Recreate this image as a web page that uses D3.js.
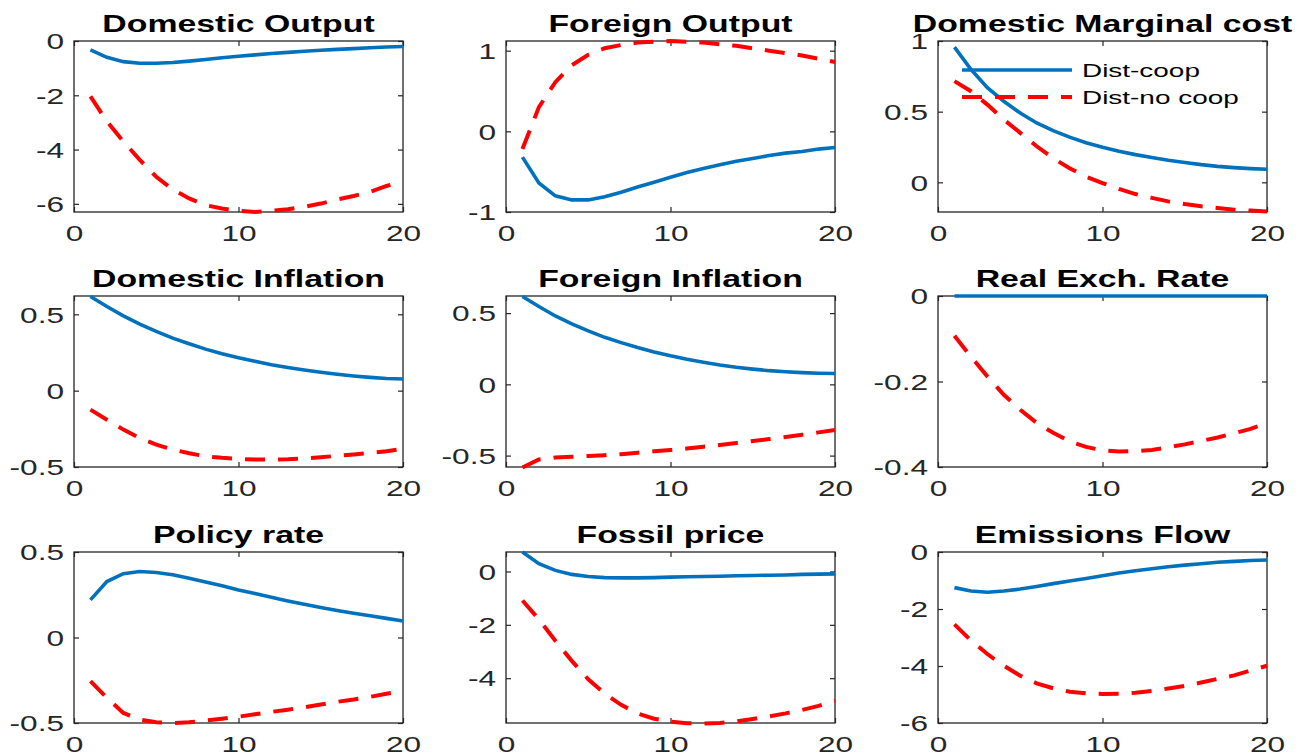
<!DOCTYPE html>
<html>
<head>
<meta charset="utf-8">
<script src="https://cdn.jsdelivr.net/npm/d3@7"></script>
<style>
  body { margin: 0; background: #fff; }
  svg { display: block; font-family: "Liberation Sans", Arial, sans-serif; }
</style>
</head>
<body>
<div class="container"></div>
<script>
// periods after the shock
const periods = [1,2,3,4,5,6,7,8,9,10,11,12,13,14,15,16,17,18,19,20]
const xTicks = [0, 10, 20]
const seriesNames = ['Dist-coop', 'Dist-no coop']

const titles = ['Domestic Output', 'Foreign Output', 'Domestic Marginal cost',
                'Domestic Inflation', 'Foreign Inflation', 'Real Exch. Rate',
                'Policy rate', 'Fossil price', 'Emissions Flow']

const yDomains = [[-6.3, 0], [-1, 1.12], [-0.21, 1],
                  [-0.5, 0.62], [-0.58, 0.62], [-0.4, 0],
                  [-0.5, 0.5], [-5.68, 0.73], [-6, 0]]

const yTicks = [[-6, -4, -2, 0], [-1, 0, 1], [0, 0.5, 1],
                [-0.5, 0, 0.5], [-0.5, 0, 0.5], [-0.4, -0.2, 0],
                [-0.5, 0, 0.5], [-4, -2, 0], [-6, -4, -2, 0]]

// Dist-coop (solid blue)
const domOutputCoop = [-0.33,-0.6,-0.76,-0.82,-0.82,-0.79,-0.74,-0.68,-0.62,-0.56,-0.51,-0.46,-0.42,-0.38,-0.34,-0.31,-0.28,-0.25,-0.22,-0.2]
const forOutputCoop = [-0.32,-0.64,-0.8,-0.85,-0.85,-0.81,-0.755,-0.69,-0.63,-0.57,-0.51,-0.46,-0.415,-0.37,-0.336,-0.3,-0.27,-0.25,-0.22,-0.2]
const margCostCoop = [0.957,0.8,0.67,0.574,0.49,0.42,0.366,0.32,0.28,0.248,0.22,0.196,0.175,0.156,0.14,0.125,0.113,0.104,0.097,0.092]
const domInflCoop = [0.617,0.551,0.49,0.436,0.388,0.344,0.307,0.272,0.242,0.216,0.192,0.17,0.152,0.135,0.12,0.107,0.096,0.087,0.08,0.076]
const forInflCoop = [0.616,0.546,0.48,0.424,0.375,0.33,0.293,0.258,0.227,0.2,0.176,0.155,0.136,0.12,0.107,0.096,0.088,0.082,0.078,0.076]
const rerCoop = [0,0,0,0,0,0,0,0,0,0,0,0,0,0,0,0,0,0,0,0]
const policyCoop = [0.22,0.327,0.373,0.386,0.38,0.367,0.347,0.325,0.302,0.278,0.257,0.235,0.214,0.194,0.176,0.158,0.142,0.127,0.112,0.097]
const fossilCoop = [0.73,0.29,0.04,-0.11,-0.19,-0.23,-0.24,-0.24,-0.23,-0.21,-0.2,-0.19,-0.18,-0.16,-0.15,-0.14,-0.13,-0.11,-0.1,-0.09]
const emissCoop = [-1.25,-1.37,-1.41,-1.37,-1.3,-1.21,-1.11,-1.02,-0.93,-0.83,-0.74,-0.66,-0.59,-0.52,-0.46,-0.41,-0.36,-0.33,-0.3,-0.28]

// Dist-no coop (dashed red)
const domOutputNoCoop = [-2.04,-2.96,-3.7,-4.38,-5.0,-5.47,-5.8,-6.05,-6.17,-6.26,-6.3,-6.26,-6.2,-6.11,-5.99,-5.84,-5.71,-5.56,-5.34,-5.18]
const forOutputNoCoop = [-0.22,0.3,0.61,0.82,0.95,1.03,1.07,1.1,1.11,1.12,1.11,1.1,1.08,1.06,1.03,1.0,0.97,0.94,0.9,0.86]
const margCostNoCoop = [0.716,0.645,0.55,0.444,0.35,0.255,0.17,0.1,0.04,-0.005,-0.047,-0.083,-0.11,-0.135,-0.154,-0.17,-0.182,-0.194,-0.2,-0.206]
const domInflNoCoop = [-0.124,-0.19,-0.255,-0.31,-0.353,-0.386,-0.41,-0.43,-0.44,-0.447,-0.451,-0.451,-0.449,-0.444,-0.436,-0.427,-0.418,-0.407,-0.397,-0.381]
const forInflNoCoop = [-0.583,-0.527,-0.513,-0.508,-0.503,-0.497,-0.49,-0.48,-0.47,-0.461,-0.45,-0.438,-0.426,-0.412,-0.398,-0.384,-0.37,-0.354,-0.337,-0.321]
const rerNoCoop = [-0.093,-0.142,-0.188,-0.231,-0.266,-0.297,-0.32,-0.34,-0.353,-0.361,-0.364,-0.363,-0.36,-0.354,-0.347,-0.339,-0.331,-0.321,-0.311,-0.297]
const policyNoCoop = [-0.255,-0.353,-0.441,-0.48,-0.496,-0.5,-0.496,-0.486,-0.475,-0.463,-0.449,-0.435,-0.422,-0.408,-0.392,-0.376,-0.363,-0.347,-0.329,-0.314]
const fossilNoCoop = [-1.09,-1.79,-2.6,-3.35,-4.04,-4.58,-5.0,-5.32,-5.52,-5.63,-5.69,-5.7,-5.68,-5.62,-5.53,-5.43,-5.32,-5.19,-5.04,-4.85]
const emissNoCoop = [-2.54,-3.1,-3.58,-3.99,-4.34,-4.61,-4.78,-4.9,-4.96,-4.98,-4.97,-4.94,-4.88,-4.79,-4.7,-4.58,-4.45,-4.33,-4.16,-3.99]

const coopSeries = [domOutputCoop, forOutputCoop, margCostCoop, domInflCoop, forInflCoop,
                    rerCoop, policyCoop, fossilCoop, emissCoop]
const noCoopSeries = [domOutputNoCoop, forOutputNoCoop, margCostNoCoop, domInflNoCoop, forInflNoCoop,
                      rerNoCoop, policyNoCoop, fossilNoCoop, emissNoCoop]

const width = 1300, height = 756
const SX = 1.47   // the figure is stretched sideways, text too
const colLeft = [74, 506, 938], rowTop = [41, 296, 552]
const pw = 329, ph = 171
const blue = '#0072BD', red = '#FF0000', axisCol = '#262626'

const svg = d3.select('.container').append('svg')
    .attr('width', width).attr('height', height)

titles.forEach((title, i) => {
    const col = i % 3, row = Math.floor(i / 3)
    const g = svg.append('g')
        .attr('transform', `translate(${colLeft[col]},${rowTop[row]})`)

    const x = d3.scaleLinear().domain([0, 20]).range([0, pw])
    const y = d3.scaleLinear().domain(yDomains[i]).range([ph, 0])

    // ticks inside on all four sides
    const bottom = g.append('g').attr('transform', `translate(0,${ph})`)
        .call(d3.axisBottom(x).tickValues(xTicks).tickSize(-5).tickSizeOuter(0)
            .tickPadding(14).tickFormat(d => String(d)))
    const left = g.append('g')
        .call(d3.axisLeft(y).tickValues(yTicks[i]).tickSize(-5).tickSizeOuter(0)
            .tickFormat(d => String(d)))
    g.append('g').call(d3.axisTop(x).tickValues(xTicks).tickSize(-5).tickSizeOuter(0).tickFormat(''))
    g.append('g').attr('transform', `translate(${pw},0)`)
        .call(d3.axisRight(y).tickValues(yTicks[i]).tickSize(-5).tickSizeOuter(0).tickFormat(''))

    g.selectAll('.domain').remove()
    g.selectAll('.tick line').attr('stroke', axisCol).attr('stroke-width', 1.2)

    bottom.selectAll('text')
        .attr('transform', `scale(${SX},1)`)
        .style('font-size', '21.5px').attr('fill', axisCol)
    left.selectAll('text')
        .attr('x', -10 / SX).attr('dy', '0.36em')
        .attr('transform', `scale(${SX},1)`)
        .style('font-size', '21.5px').attr('fill', axisCol)

    g.append('rect').attr('width', pw).attr('height', ph)
        .attr('fill', 'none').attr('stroke', axisCol).attr('stroke-width', 1.3)

    const line = d3.line().x((d, k) => x(periods[k])).y(d => y(d))

    g.append('path').datum(coopSeries[i])
        .attr('d', line).attr('fill', 'none')
        .attr('stroke', blue).attr('stroke-width', 3.6)
    g.append('path').datum(noCoopSeries[i])
        .attr('d', line).attr('fill', 'none')
        .attr('stroke', red).attr('stroke-width', 4)
        .attr('stroke-dasharray', '20,13')

    svg.append('text')
        .attr('transform', `translate(${colLeft[col] + pw / 2},${rowTop[row] - 9}) scale(${SX},1)`)
        .attr('text-anchor', 'middle')
        .style('font-size', '23px').style('font-weight', 'bold')
        .text(title)
})

// legend sits in the third panel, no box
const legend = svg.append('g')
const legendY = [70, 97]
seriesNames.forEach((name, k) => {
    legend.append('line')
        .attr('x1', 962).attr('x2', 1072)
        .attr('y1', legendY[k]).attr('y2', legendY[k])
        .attr('stroke', k === 0 ? blue : red)
        .attr('stroke-width', k === 0 ? 3.6 : 4)
        .attr('stroke-dasharray', k === 0 ? null : '20,13')
    legend.append('text')
        .attr('transform', `translate(1082,${legendY[k] + 7}) scale(${SX},1)`)
        .style('font-size', '19px')
        .text(name)
})
</script>
</body>
</html>
